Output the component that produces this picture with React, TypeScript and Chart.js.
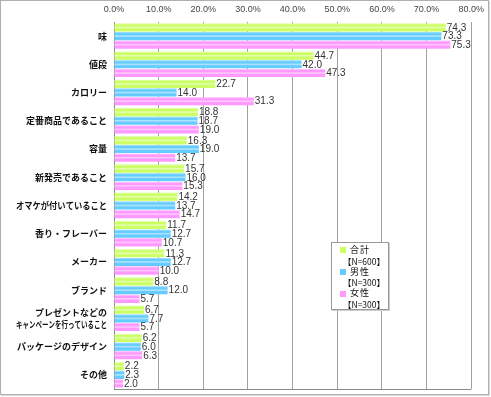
import React, { useEffect, useRef } from "react";
import { Chart, registerables } from "chart.js";

Chart.register(...registerables);

const categories: (string | string[])[] = [
  "味",
  "値段",
  "カロリー",
  "定番商品であること",
  "容量",
  "新発売であること",
  "オマケが付いていること",
  "香り・フレーバー",
  "メーカー",
  "ブランド",
  ["プレゼントなどの", "キャンペーンを行っていること"],
  "パッケージのデザイン",
  "その他",
];

const totalValues = [74.3, 44.7, 22.7, 18.8, 16.3, 15.7, 14.2, 11.7, 11.3, 8.8, 6.7, 6.2, 2.2];
const maleValues = [73.3, 42.0, 14.0, 18.7, 19.0, 16.0, 13.7, 12.7, 12.7, 12.0, 7.7, 6.0, 2.3];
const femaleValues = [75.3, 47.3, 31.3, 19.0, 13.7, 15.3, 14.7, 10.7, 10.0, 5.7, 5.7, 6.3, 2.0];

const seriesNames = ["合計", "男性", "女性"];
const seriesN = ["【N=600】", "【N=300】", "【N=300】"];
const seriesColors = ["#ccff66", "#66ccff", "#ff99ff"];

const xMin = 0;
const xMax = 80;
const xStep = 10;

const stripePlugin = {
  id: "stripe",
  afterDatasetsDraw(chart: any) {
    const ctx = chart.ctx;
    ctx.save();
    chart.data.datasets.forEach((ds: any, i: number) => {
      const meta = chart.getDatasetMeta(i);
      meta.data.forEach((bar: any) => {
        const h = bar.height;
        const top = bar.y - h / 2;
        const left = Math.min(bar.base, bar.x);
        const w = Math.abs(bar.x - bar.base);
        ctx.fillStyle = "rgba(255,255,255,0.45)";
        ctx.fillRect(left, top + h * 0.4, w, h * 0.2);
        ctx.fillStyle = "rgba(255,255,255,0.35)";
        ctx.fillRect(left, top, w, 1);
      });
    });
    ctx.restore();
  },
};

const labelPlugin = {
  id: "valueLabels",
  afterDatasetsDraw(chart: any) {
    const ctx = chart.ctx;
    ctx.save();
    ctx.font = "10px Arial, 'Liberation Sans', sans-serif";
    ctx.fillStyle = "#333333";
    ctx.textAlign = "left";
    ctx.textBaseline = "middle";
    chart.data.datasets.forEach((ds: any, i: number) => {
      const meta = chart.getDatasetMeta(i);
      meta.data.forEach((bar: any, j: number) => {
        const v = ds.data[j];
        ctx.fillText(v.toFixed(1), bar.x + 1, bar.y + 0.5);
      });
    });
    ctx.restore();
  },
};

const categoryLabelPlugin = {
  id: "categoryLabels",
  afterDraw(chart: any) {
    const ctx = chart.ctx;
    const yScale = chart.scales.y;
    const x = chart.chartArea.left - 7;
    ctx.save();
    ctx.font = "bold 9px 'Noto Sans CJK JP', sans-serif";
    ctx.fillStyle = "#111111";
    ctx.textAlign = "right";
    ctx.textBaseline = "middle";
    chart.data.labels.forEach((lab: any, i: number) => {
      const yc = yScale.getPixelForValue(i);
      const lines = Array.isArray(lab) ? lab : [lab];
      const lh = 12.5;
      lines.forEach((line: string, k: number) => {
        const y = yc + (k - (lines.length - 1) / 2) * lh;
        ctx.fillText(line, x, y, 91);
      });
    });
    ctx.restore();
  },
};

export default function App() {
  const canvasRef = useRef<HTMLCanvasElement | null>(null);

  useEffect(() => {
    if (!canvasRef.current) return;
    const values = [totalValues, maleValues, femaleValues];
    const chart = new Chart(canvasRef.current, {
      type: "bar",
      data: {
        labels: categories,
        datasets: values.map((d, i) => ({
          label: seriesNames[i],
          data: d,
          backgroundColor: seriesColors[i],
          borderWidth: 0,
          categoryPercentage: 0.92,
          barPercentage: 0.93,
        })),
      },
      options: {
        indexAxis: "y",
        animation: false,
        responsive: false,
        maintainAspectRatio: false,
        layout: { padding: { left: 4, right: 17, top: 0, bottom: 8 } },
        plugins: {
          legend: { display: false },
          tooltip: { enabled: false },
        },
        scales: {
          x: {
            position: "top",
            min: xMin,
            max: xMax,
            ticks: {
              stepSize: xStep,
              color: "#444444",
              font: { size: 9, family: "Arial, 'Liberation Sans', sans-serif" },
              padding: 7,
              callback: (v: any) => Number(v).toFixed(1) + "%",
            },
            grid: { color: "#a0a0a0", drawTicks: false, lineWidth: 1 },
            border: { display: false },
            afterFit: (scale: any) => {
              scale.height = 22;
            },
          },
          y: {
            ticks: { display: false },
            grid: { display: false, drawTicks: false },
            border: { display: true, color: "#888888" },
            afterFit: (scale: any) => {
              scale.width = 110;
            },
          },
        },
      },
      plugins: [
        stripePlugin,
        labelPlugin,
        categoryLabelPlugin,
        {
          id: "bottomLine",
          afterDatasetsDraw(c: any) {
            const { ctx, chartArea } = c;
            ctx.save();
            ctx.strokeStyle = "#888888";
            ctx.lineWidth = 1;
            ctx.beginPath();
            ctx.moveTo(chartArea.left, Math.round(chartArea.bottom) + 0.5);
            ctx.lineTo(chartArea.right, Math.round(chartArea.bottom) + 0.5);
            ctx.stroke();
            ctx.restore();
          },
        },
      ],
    } as any);
    return () => chart.destroy();
  }, []);

  return (
    <div style={{ position: "fixed", left: 0, top: 0, width: 491, height: 397, background: "#ffffff" }}>
      <canvas ref={canvasRef} width={491} height={397} style={{ position: "absolute", left: 0, top: 0 }} />
      <div
        style={{
          position: "absolute",
          left: 0,
          top: 0,
          width: 487,
          height: 393,
          border: "1px solid #b0b0b0",
          boxShadow: "1px 1px 0 #d8d8d8",
          pointerEvents: "none",
        }}
      />
      <div
        style={{
          position: "absolute",
          left: 331,
          top: 242,
          width: 58,
          height: 68,
          border: "1px solid #999999",
          background: "#ffffff",
          boxShadow: "1px 1px 0 #cccccc",
          fontFamily: "'Noto Sans CJK JP', sans-serif",
          fontSize: 9,
          lineHeight: "10.8px",
          color: "#111111",
          paddingTop: 2,
          boxSizing: "border-box",
        }}
      >
        {seriesNames.map((name, i) => (
          <div key={name}>
            <div style={{ display: "flex", alignItems: "center", paddingLeft: 8 }}>
              <span
                style={{
                  display: "inline-block",
                  width: 6,
                  height: 6,
                  background: seriesColors[i],
                  marginRight: 4,
                }}
              />
              <span style={{ letterSpacing: 1 }}>{name}</span>
            </div>
            <div style={{ paddingLeft: 11, fontSize: 8.5, whiteSpace: "nowrap" }}>{seriesN[i]}</div>
          </div>
        ))}
      </div>
    </div>
  );
}
